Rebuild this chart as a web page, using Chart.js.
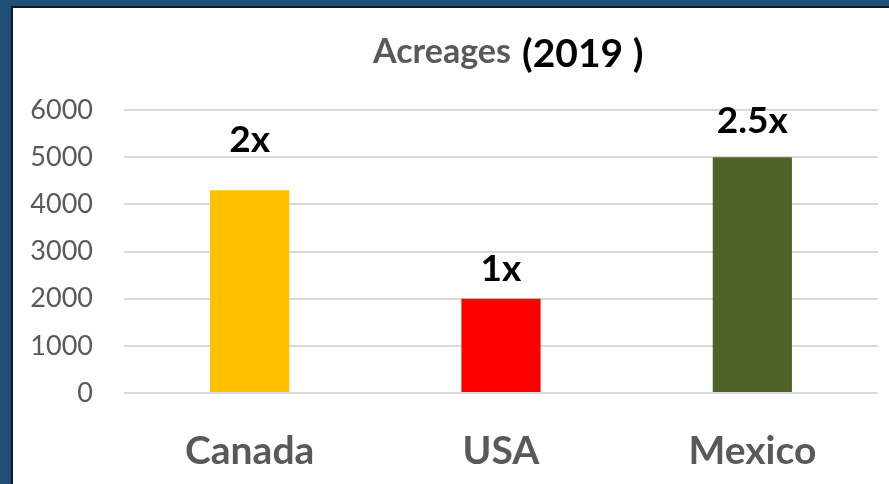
<!DOCTYPE html>
<html>
<head>
<meta charset="utf-8">
<script src="https://cdn.jsdelivr.net/npm/chart.js@4.4.0/dist/chart.umd.min.js"></script>
<style>
  html, body { margin: 0; padding: 0; background: #1F4E79; overflow: hidden; }
  #frame {
    position: absolute; left: 11px; top: 6px; width: 878px; height: 478px;
    border-left: 2px solid #0d1b2a; border-top: 2px solid #0d1b2a; background: #fff;
  }
  #wrap { position: absolute; left: 0; top: 0; width: 876px; height: 476px; }
</style>
</head>
<body>
<div id="frame"><div id="wrap"><canvas id="c" width="876" height="476"></canvas></div></div>
<script>
// Acreage by country, 2019
const countries = ['Canada', 'USA', 'Mexico'];
const acreage = [4300, 2000, 5000];
const ratioLabels = ['2x', '1x', '2.5x'];
const barColors = ['#FFC000', '#FF0000', '#4F6228'];
const yTicks = [0, 1000, 2000, 3000, 4000, 5000, 6000];

const FONT = 'Lato, "Open Sans", sans-serif';
const GREY = '#595959';

// Two-part heading: grey "Acreages" followed by black "(2019 )"
const headingPlugin = {
  id: 'heading',
  afterDraw(chart) {
    const ctx = chart.ctx;
    ctx.save();
    ctx.textBaseline = 'alphabetic';
    ctx.textAlign = 'left';
    ctx.fillStyle = GREY;
    ctx.font = 'bold 34px ' + FONT;
    ctx.fillText('Acreages', 360, 55);
    ctx.fillStyle = '#000';
    ctx.font = 'bold 39px ' + FONT;
    ctx.fillText('(2019 )', 509, 59);
    ctx.restore();
  }
};

// Ratio labels written above each bar
const ratioPlugin = {
  id: 'ratios',
  afterDatasetsDraw(chart, args, opts) {
    const ctx = chart.ctx;
    const meta = chart.getDatasetMeta(0);
    ctx.save();
    ctx.font = 'bold 37px ' + FONT;
    ctx.fillStyle = '#000';
    ctx.textAlign = 'center';
    ctx.textBaseline = 'alphabetic';
    meta.data.forEach((bar, i) => {
      ctx.fillText(ratioLabels[i], bar.x, bar.y - opts.gaps[i]);
    });
    ctx.restore();
  }
};

new Chart(document.getElementById('c'), {
  type: 'bar',
  data: {
    labels: countries,
    datasets: [{
      data: acreage,
      backgroundColor: barColors,
      borderWidth: 0,
      categoryPercentage: 1,
      barPercentage: 0.315
    }]
  },
  options: {
    responsive: false,
    animation: false,
    layout: { padding: { top: 102, right: 11, left: 0, bottom: 0 } },
    plugins: {
      legend: { display: false },
      tooltip: { enabled: false },
      title: { display: false },
      ratios: { gaps: [38, 18, 24] }
    },
    scales: {
      x: {
        grid: { display: false, drawTicks: false },
        border: { display: false },
        ticks: { color: GREY, font: { family: FONT, size: 39, weight: 'bold' }, padding: 35 },
        afterFit(scale) { scale.height = 91; }
      },
      y: {
        min: 0,
        max: 6000,
        afterBuildTicks(scale) { scale.ticks = yTicks.map(v => ({ value: v })); },
        grid: { color: '#D9D9D9', lineWidth: 2, drawTicks: false },
        border: { display: false },
        ticks: {
          color: GREY, font: { family: FONT, size: 27 }, padding: 31,
          callback: (v) => String(v)
        },
        afterFit(scale) { scale.width = 111; }
      }
    }
  },
  plugins: [headingPlugin, ratioPlugin]
});
</script>
</body>
</html>
